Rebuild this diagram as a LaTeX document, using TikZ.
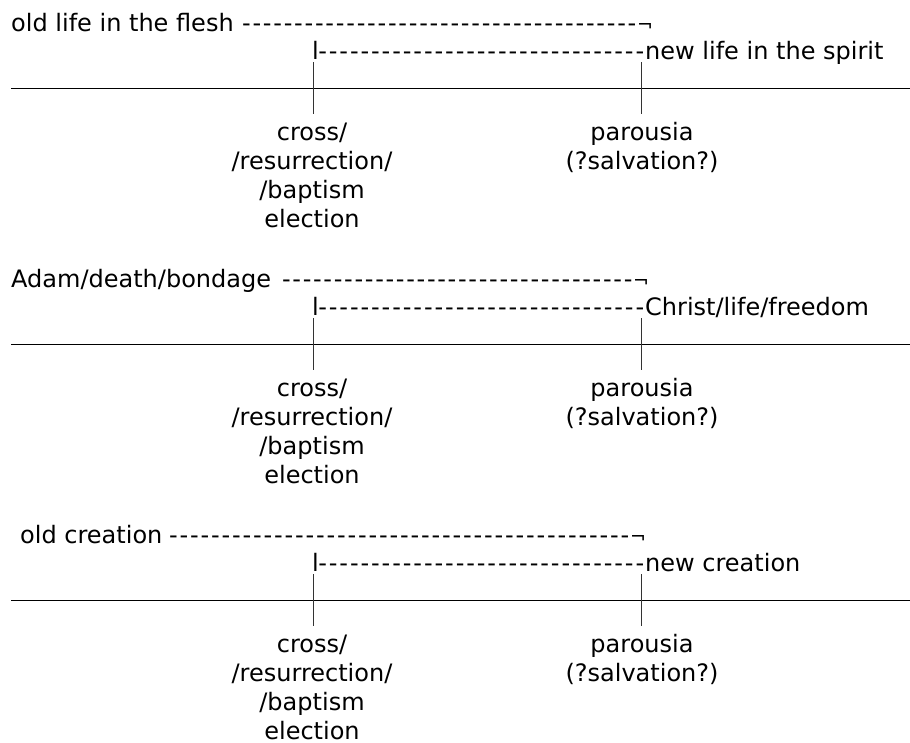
\documentclass[tikz,border=0pt]{standalone}
\usepackage{fontspec}
\setmainfont{DejaVu Sans}
\newcommand{\dashrun}[1]{\hbox to #1pt{\xleaders\hbox to 10.3pt{\hss-\hss}\hfill}}
\tikzset{
  txt/.style={inner sep=0pt, anchor=base west, font=\fontsize{24}{29}\selectfont},
  lbl/.style={inner sep=0pt, anchor=base, align=center, font=\fontsize{24}{29}\selectfont},
  corner/.style={inner sep=0pt, anchor=base west, font=\fontsize{19}{22}\selectfont},
  axis/.style={line width=1pt},
  tick/.style={line width=1pt, black!80}
}
\begin{document}
\begin{tikzpicture}[x=1pt,y=-1pt]
\useasboundingbox (0,0) rectangle (910,742);
\foreach \b/\old/\oldx/\dx/\cx/\new in {0/{old life in the flesh}/11/241/637/{new life in the spirit},
  1/{Adam/death/bondage}/11/281/633/{Christ/life/freedom},
  2/{old creation}/20/168/630/{new creation}}{
\pgfmathsetmacro{\off}{256*\b}
\pgfmathsetmacro{\dw}{\cx-\dx}
% top row
\node[txt] (old\b) at (\oldx,31+\off) {\old};
\node[txt] (run\b) at (\dx,31+\off) {\dashrun{\dw}};
\node[corner] (hook\b) at (\cx,31+\off) {¬};
% second row
\node[txt] (cut\b) at (312,59+\off) {l};
\node[txt] (runb\b) at (317,59+\off) {\dashrun{328}};
\node[txt] (new\b) at (645,59+\off) {\new};
% time line
\draw[axis] (11,88+\off) -- (910,88+\off);
\draw[tick] (313,62+\off) -- (313,114+\off);
\draw[tick] (641,62+\off) -- (641,114+\off);
\node[lbl] (cross\b) at (312,227+\off) {cross/\\/resurrection/\\/baptism\\election};
\node[lbl] (parousia\b) at (642,169+\off) {parousia\\(?salvation?)};
}
\end{tikzpicture}
\end{document}
